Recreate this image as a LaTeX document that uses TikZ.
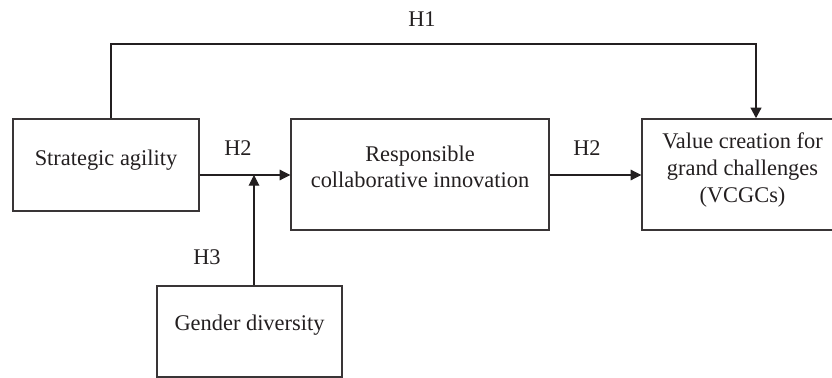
\documentclass[tikz,border=0pt]{standalone}
\usepackage{fontspec}
\setmainfont{Liberation Serif}
\usetikzlibrary{arrows.meta}
\definecolor{ink}{HTML}{231F20}
\tikzset{
  box/.style={draw=ink!90, line width=1.1pt, rectangle, inner sep=0pt},
  txt/.style={text=ink, font=\fontsize{16.8}{20}\selectfont, align=center, inner sep=0pt},
  hlab/.style={text=ink, font=\fontsize{16.8}{20}\selectfont, inner sep=0pt},
  thinarrow/.style={draw=ink, line width=0.8pt, -{Triangle[length=8pt,width=8pt]}},
  thickarrow/.style={draw=ink, line width=1.6pt, -{Triangle[length=8pt,width=8pt]}}
}
\begin{document}
\begin{tikzpicture}[x=0.75pt,y=-0.75pt]
\useasboundingbox (0,0) rectangle (832,378);
% boxes
\node[box, minimum width=186*0.75pt, minimum height=92*0.75pt] (sa) at (106,165) {};
\node[box, minimum width=258*0.75pt, minimum height=111*0.75pt] (rci) at (420,174.5) {};
\node[box, minimum width=201*0.75pt, minimum height=111*0.75pt] (vc) at (742.5,174.5) {};
\node[box, minimum width=185*0.75pt, minimum height=91*0.75pt] (gd) at (249.5,331.5) {};
% texts
\node[txt] (tsa) at (106,160) {Strategic agility};
\node[txt] (trci) at (420,167) {Responsible\\collaborative innovation};
\node[txt] (tvc) at (742.5,170) {Value creation for\\grand challenges\\(VCGCs)};
\node[txt] (tgd) at (249.5,325) {Gender diversity};
% labels
\node[hlab] (h1) at (422,19) {H1};
\node[hlab] (h2a) at (238,148) {H2};
\node[hlab] (h2b) at (587,148) {H2};
\node[hlab] (h3) at (207,257) {H3};
% connectors
\coordinate (jn) at (254,175);
\coordinate (tl) at (111,44);
\coordinate (tr) at (756,44);
\draw[thinarrow] (sa.east |- jn) -- (rci.west |- jn);
\draw[thinarrow] (gd.north -| jn) -- (jn);
\draw[thinarrow] (rci.east |- jn) -- (vc.west |- jn);
\draw[thickarrow] (sa.north -| tl) -- (tl) -- (tr) -- (vc.north -| tr);
\end{tikzpicture}
\end{document}
